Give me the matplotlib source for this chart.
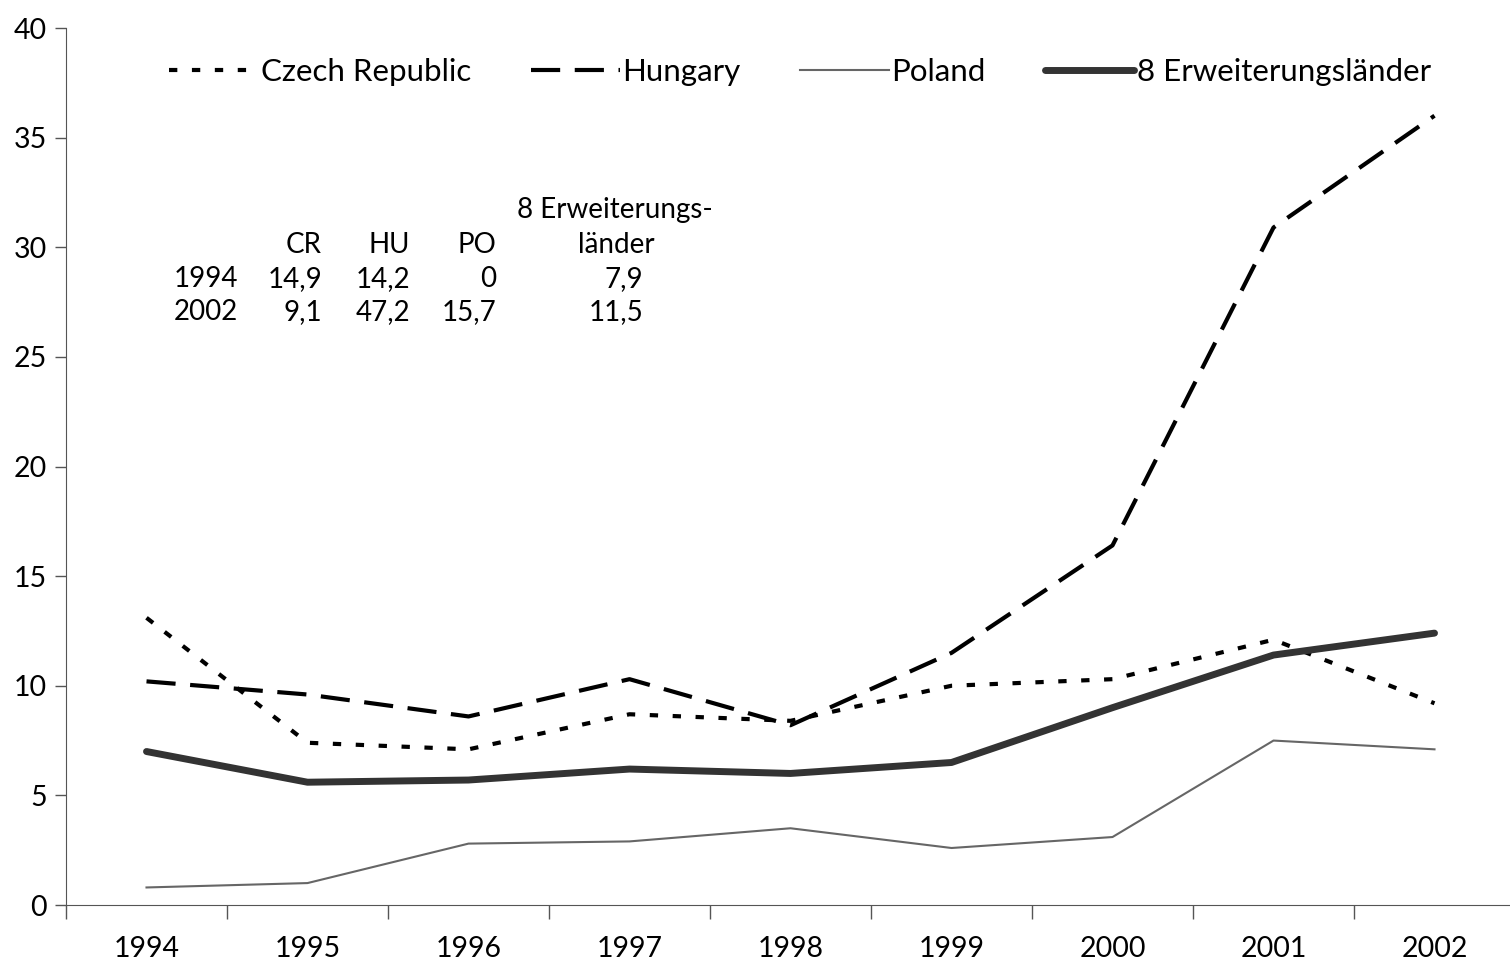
import matplotlib.pyplot as plt

years = ['1994', '1995', '1996', '1997', '1998', '1999', '2000', '2001', '2002']
czech = [13.1, 7.4, 7.1, 8.7, 8.4, 10.0, 10.3, 12.1, 9.2]
hungary = [10.2, 9.6, 8.6, 10.3, 8.2, 11.5, 16.4, 30.9, 36.0]
poland = [0.8, 1.0, 2.8, 2.9, 3.5, 2.6, 3.1, 7.5, 7.1]
erw8 = [7.0, 5.6, 5.7, 6.2, 6.0, 6.5, 9.0, 11.4, 12.4]

# small inset table
tab_cols = ['CR', 'HU', 'PO', 'länder']
tab_rows = ['1994', '2002']
tab_vals = [['14,9', '14,2', '0', '7,9'],
            ['9,1', '47,2', '15,7', '11,5']]

plt.rcParams['font.family'] = ['Lato', 'DejaVu Sans']
W, H = 1510, 963
fig = plt.figure(figsize=(W / 100, H / 100), dpi=100)
ax = fig.add_axes([66 / W, 1 - 905 / H, 1449 / W, 877 / H])

x = list(range(len(years)))
ax.plot(x, czech, color='black', lw=3, ls=(0, (2, 3.5)), label='Czech Republic')
ax.plot(x, hungary, color='black', lw=3, ls=(0, (7, 3.5)), label='Hungary')
ax.plot(x, poland, color='#666666', lw=1.5, label='Poland')
ax.plot(x, erw8, color='#333333', lw=5, solid_capstyle='round', label='8 Erweiterungsländer')

ax.set_xlim(-0.5, len(years) - 0.5)
ax.set_ylim(0, 40)
ax.set_yticks(range(0, 41, 5))
ax.set_xticks([i - 0.5 for i in range(len(years) + 1)])
ax.set_xticklabels([])
ax.set_xticks(x, minor=True)
ax.set_xticklabels(years, minor=True)
ax.tick_params(axis='x', which='major', length=10, width=1, color='#555555', direction='out')
ax.tick_params(axis='x', which='minor', length=0, pad=22, labelsize=20.5)
ax.tick_params(axis='y', length=8, width=1, color='#555555', labelsize=20.5, pad=6)
for s in ['top', 'right']:
    ax.spines[s].set_visible(False)
for s in ['left', 'bottom']:
    ax.spines[s].set_color('#555555')

ax.legend(loc='upper left', bbox_to_anchor=(0.052, 0.998), ncol=4, frameon=False,
          fontsize=22.5, handlelength=2.85, handletextpad=0.08, columnspacing=1.9)

# table text, pixel positions
def pt(px, py):
    return px / W, 1 - py / H

fs = 20
fig.text(*pt(713, 210), '8 Erweiterungs-', fontsize=fs, ha='right', va='center')
col_right = [322, 410, 496, 655]
for c, xr in zip(tab_cols, col_right):
    fig.text(*pt(xr, 245), c, fontsize=fs, ha='right', va='center')
val_right = [322, 410, 496, 643]
for r, (yr, vals) in enumerate(zip(tab_rows, tab_vals)):
    yy = 279 + r * 33
    fig.text(*pt(238, yy), yr, fontsize=fs, ha='right', va='center')
    for v, xr in zip(vals, val_right):
        fig.text(*pt(xr, yy), v, fontsize=fs, ha='right', va='center')

fig.savefig('out.png', dpi=100)
